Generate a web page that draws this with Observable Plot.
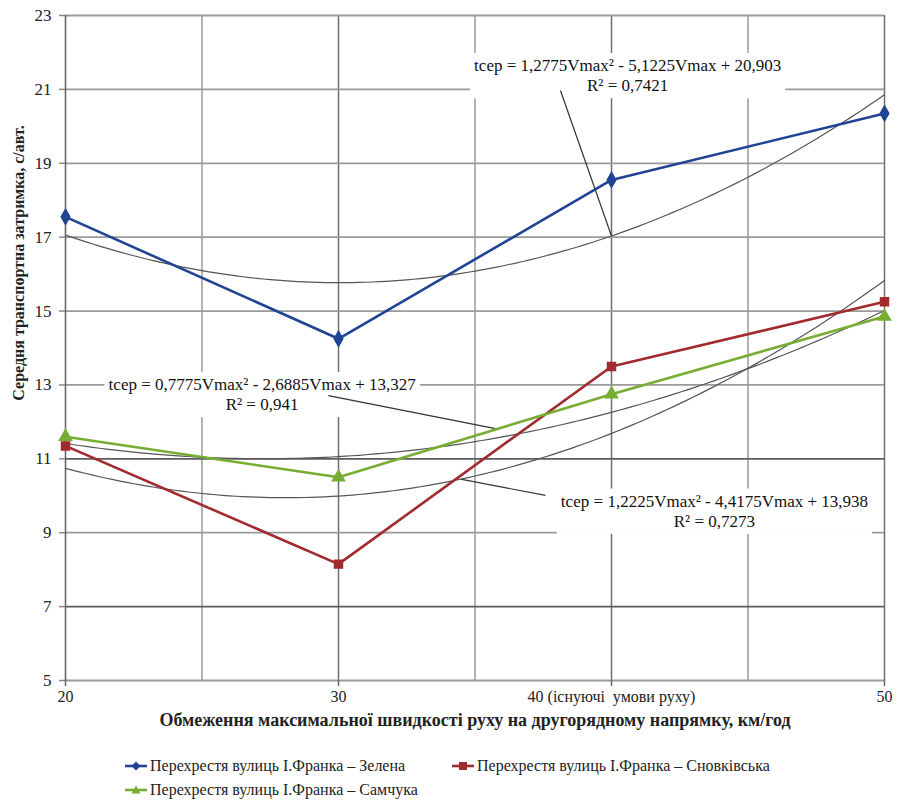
<!DOCTYPE html>
<html><head><meta charset="utf-8">
<script src="https://cdn.jsdelivr.net/npm/d3@7"></script>
<script src="https://cdn.jsdelivr.net/npm/@observablehq/plot@0.6"></script>
<style>
body{margin:0;background:#fff;font-family:"Liberation Serif",serif;}
#chart{position:relative;width:899px;height:804px;}
#chart svg, #chart svg text{font-family:"Liberation Serif",serif !important;}
.leg{position:absolute;display:flex;align-items:center;font-size:16px;color:#222;white-space:nowrap;line-height:1}
.leg svg{margin-right:3px}
</style></head><body><div id="chart"></div>
<script>
// ---- data ----
const speeds = [20, 30, 40, 50];
const seriesNames = [
  "Перехрестя вулиць І.Франка – Зелена",
  "Перехрестя вулиць І.Франка – Сновківська",
  "Перехрестя вулиць І.Франка – Самчука"
];
const zelena = [17.55, 14.25, 18.55, 20.35];
const snovkivska = [11.35, 8.15, 13.5, 15.25];
const samchuka = [11.6, 10.5, 12.75, 14.85];
// trend (2nd order polynomial in point index 1..4), as printed on the chart
const trendA = [1.2775, 1.2225, 0.7775];
const trendB = [-5.1225, -4.4175, -2.6885];
const trendC = [20.903, 13.938, 13.327];
const trendEq = [
  "tсер = 1,2775Vmax² - 5,1225Vmax + 20,903\nR² = 0,7421",
  "tсер = 1,2225Vmax² - 4,4175Vmax + 13,938\nR² = 0,7273",
  "tсер = 0,7775Vmax² - 2,6885Vmax + 13,327\nR² = 0,941"
];
const yTicks = [5, 7, 9, 11, 13, 15, 17, 19, 21, 23];
const xTicks = [20, 30, 40, 50];
const xTickLabels = ["20", "30", "40 (існуючі  умови руху)", "50"];
const xTitle = "Обмеження максимальної швидкості руху на другорядному напрямку, км/год";
const yTitle = "Середня транспортна затримка, с/авт.";
// annotation anchors (data units)
const eqX = [40.59, 43.77, 27.2];
const eqY = [21.4, 9.61, 12.77];
const leadX1 = [38.13, 34.47, 29.63], leadY1 = [20.97, 10.45, 12.71];
const leadX2 = [40.0, 37.58, 35.75], leadY2 = [17.03, 10.01, 11.82];

const colors = ["#1f4493", "#a12a2e", "#77ad33"];
const symbols = ["diamond", "square", "triangle"];
const values = [zelena, snovkivska, samchuka];

const points = [];
values.forEach((vals, s) => vals.forEach((v, i) => points.push({series: s, x: speeds[i], y: v})));
const trend = [];
trendA.forEach((a, s) => {
  for (let V = 20; V <= 50.001; V += 0.25) {
    const k = (V - 20) / 10 + 1;
    trend.push({series: s, x: V, y: a * k * k + trendB[s] * k + trendC[s]});
  }
});
const eqs = trendEq.map((t, i) => ({t, x: eqX[i], y: eqY[i]}));
const leads = leadX1.map((x, i) => ({x1: x, y1: leadY1[i], x2: leadX2[i], y2: leadY2[i]}));
const FF = "'Liberation Serif', serif";

const chart = Plot.plot({
  width: 899, height: 740,
  marginLeft: 65, marginRight: 15, marginTop: 15, marginBottom: 60,
  style: {fontFamily: FF, fontSize: "16px", color: "#222", background: "#fff"},
  x: {domain: [20, 50]},
  y: {domain: [5, 23]},
  marks: [
    Plot.gridX([25, 35, 45], {stroke: "#9a9a9a", strokeOpacity: 1, strokeWidth: 1.5}),
    Plot.gridX([30, 40, 50], {stroke: "#6f6f6f", strokeOpacity: 1, strokeWidth: 1.5}),
    Plot.gridY(yTicks.filter(d => d !== 7 && d !== 11), {stroke: "#9a9a9a", strokeOpacity: 1, strokeWidth: 1.8}),
    Plot.gridY([7, 11], {stroke: "#5c5c5c", strokeOpacity: 1, strokeWidth: 1.8}),
    Plot.ruleX([20], {stroke: "#666", strokeWidth: 1.6}),
    Plot.axisY({ticks: yTicks, tickSize: 6, tickPadding: 8, stroke: "#888", strokeWidth: 1.5, label: null, fontSize: 17, fontFamily: FF}),
    Plot.axisX({ticks: xTicks, tickSize: 6, tickPadding: 4, stroke: "#666", strokeWidth: 1.5, label: null, fontSize: 16, fontFamily: FF,
      tickFormat: d => xTickLabels[xTicks.indexOf(d)]}),
    Plot.text([xTitle], {frameAnchor: "bottom", dy: 45, fontWeight: "bold", fontSize: 18, fontFamily: FF}),
    Plot.text([yTitle], {frameAnchor: "left", textAnchor: "middle", dx: -47, dy: -85, rotate: -90, fontWeight: "bold", fontSize: 16, fontFamily: FF}),
    Plot.text(eqs, {x: "x", y: "y", text: "t", fontSize: 17, lineHeight: 1.2, className: "eqlabel", fill: "#111", fontFamily: FF}),
    Plot.link(leads, {x1: "x1", y1: "y1", x2: "x2", y2: "y2", stroke: "#333", strokeWidth: 1.2}),
    Plot.line(trend, {x: "x", y: "y", z: "series", stroke: "#555", strokeWidth: 1.2}),
    Plot.line(points, {x: "x", y: "y", z: "series", stroke: d => colors[d.series], strokeWidth: 2.6}),
    ...[0, 1, 2].map(s => Plot.dot(points.filter(p => p.series === s), {x: "x", y: "y", symbol: () => symbols[s], fill: colors[s], stroke: colors[s], r: 4.5}))
  ]
});
const host = document.getElementById("chart");
host.appendChild(chart);
// white boxes behind equation labels
chart.querySelectorAll("g.eqlabel text, .eqlabel text").forEach(t => {
  const b = t.getBBox();
  const r = document.createElementNS("http://www.w3.org/2000/svg", "rect");
  r.setAttribute("x", b.x - 4); r.setAttribute("y", b.y - 3);
  r.setAttribute("width", b.width + 8); r.setAttribute("height", b.height + 6);
  r.setAttribute("fill", "#fff");
  const tr = t.getAttribute("transform");
  if (tr) r.setAttribute("transform", tr);
  t.parentNode.insertBefore(r, t);
});
// legend
const legendPos = [[125, 766], [452, 766], [125, 790]];
const markerSvg = s => {
  const c = colors[s];
  let m = "";
  if (s === 0) m = `<path d="M11,1.5L15.5,6L11,10.5L6.5,6Z" fill="${c}"/>`;
  if (s === 1) m = `<rect x="7" y="2" width="8" height="8" fill="${c}"/>`;
  if (s === 2) m = `<path d="M11,1.5L15.5,9.5L6.5,9.5Z" fill="${c}"/>`;
  return `<svg width="22" height="12"><line x1="0" y1="6" x2="22" y2="6" stroke="${c}" stroke-width="2.6"/>${m}</svg>`;
};
seriesNames.forEach((n, s) => {
  const d = document.createElement("div");
  d.className = "leg";
  d.style.left = legendPos[s][0] + "px";
  d.style.top = (legendPos[s][1] - 8) + "px";
  d.innerHTML = markerSvg(s) + "<span>" + n + "</span>";
  host.appendChild(d);
});
</script></body></html>
